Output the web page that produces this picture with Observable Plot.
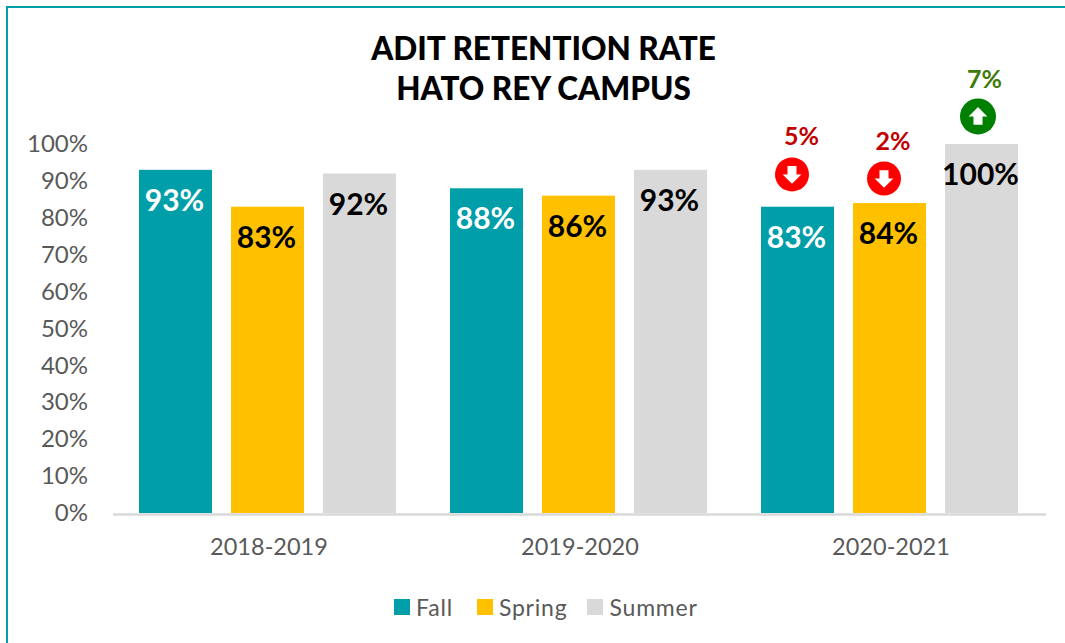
<!DOCTYPE html>
<html><head><meta charset="utf-8">
<script src="https://cdn.jsdelivr.net/npm/d3@7"></script>
<script src="https://cdn.jsdelivr.net/npm/@observablehq/plot@0.6"></script>
<style>
html,body{margin:0;padding:0;background:#fff;overflow:hidden}
#page{position:relative;width:1065px;height:643px;overflow:hidden}
#frame{position:absolute;left:6px;top:6px;width:1100px;height:700px;border:2.5px solid #009ea8;box-sizing:border-box}
#title{position:absolute;left:0;top:28px;width:1087px;text-align:center;font:900 31.5px/40px Lato,sans-serif;color:#000}
#chart{position:absolute;left:0;top:0}
#legend{position:absolute;left:394px;top:592px;display:flex;align-items:center;font:23px/30px Lato,sans-serif;color:#595959;letter-spacing:.8px}
#legend span.s{display:inline-block;width:16px;height:16px;margin-right:6px}
#legend div{display:flex;align-items:center;margin-right:24px}
#legend div:nth-child(2){margin-right:20px}
</style></head><body>
<div id="page">
<div id="frame"></div>
<div id="chart"></div>
<div id="title">ADIT RETENTION RATE<br>HATO REY CAMPUS</div>
<div id="legend"></div>
</div>
<script>
const years = ["2018-2019","2019-2020","2020-2021"];
const terms = ["Fall","Spring","Summer"];
const colors = ["#009ea8","#ffc000","#d9d9d9"];
const fall = [93,88,83];
const spring = [83,86,84];
const summer = [92,93,100];
const labelColors = ["#ffffff","#000000","#000000"];
const changeLabels = ["5%","2%","7%"];
const changeDirs = ["down","down","up"];
const badgeY = [91.9,90.8,107.6];
const changeLabelY = [101.9,100.8,117.6];
const badgeColors = ["#ff0000","#ff0000","#008000"];
const changeColors = ["#c00000","#c00000","#3f7a0a"];
const badgeDx = [-6,-6,-4];
const labelDx = [3.5,3,2.5];

const series = [fall,spring,summer];
const rows = years.flatMap((year,i)=>terms.map((term,j)=>({year,term,value:series[j][i],labelColor:labelColors[j]})));
const changes = terms.map((term,i)=>({year:years[2],term,label:changeLabels[i],dir:changeDirs[i],by:badgeY[i],ly:changeLabelY[i],bc:badgeColors[i],lc:changeColors[i],bdx:badgeDx[i],ldx:labelDx[i]}));

const arrowUp = {draw(c,s){const r=Math.sqrt(s);c.moveTo(0,-r*.62);c.lineTo(r*.62,0);c.lineTo(r*.3,0);c.lineTo(r*.3,r*.55);c.lineTo(-r*.3,r*.55);c.lineTo(-r*.3,0);c.lineTo(-r*.62,0);c.closePath();}};
const arrowDown = {draw(c,s){const r=Math.sqrt(s);c.moveTo(0,r*.62);c.lineTo(r*.62,0);c.lineTo(r*.3,0);c.lineTo(r*.3,-r*.55);c.lineTo(-r*.3,-r*.55);c.lineTo(-r*.3,0);c.lineTo(-r*.62,0);c.closePath();}};

const chart = Plot.plot({
  width:1065,height:643,marginLeft:112,marginRight:19,marginTop:144,marginBottom:130,
  style:{background:"transparent",fontFamily:"Lato, sans-serif",overflow:"visible"},
  fx:{domain:years,padding:0,label:null,axis:null},
  x:{domain:terms,paddingInner:.211,paddingOuter:.295,align:.48,axis:null,label:null},
  y:{domain:[0,100],label:null,axis:null},
  color:{domain:terms,range:colors},
  marks:[
    Plot.axisY({ticks:d3.range(0,101,10),tickFormat:d=>d+"%",tickSize:0,tickPadding:25.5,label:null,fontSize:24,fill:"#595959",anchor:"left"}),
    Plot.axisFx({domain:years,anchor:"bottom",tickSize:0,tickPadding:25,label:null,fontSize:23.5,fill:"#595959"}),
    Plot.barY(rows,{fx:"year",x:"term",y:"value",fill:"term"}),
    Plot.ruleY([0],{stroke:"#d9d9d9",strokeWidth:2.5,dy:1}),
    Plot.text(rows,{fx:"year",x:"term",y:"value",text:d=>d.value+"%",fill:"labelColor",dx:-1.5,dy:31,fontSize:30,fontWeight:700,fontFamily:"Lato, sans-serif"}),
    ...changes.map(d=>Plot.dot([d],{fx:"year",x:"term",y:"by",r:d.dir==="up"?18:17,fill:"bc",dx:d.bdx})),
    ...changes.map(d=>Plot.dot([d],{fx:"year",x:"term",y:"by",r:8.5,symbol:()=>d.dir==="up"?arrowUp:arrowDown,fill:"#fff",dx:d.bdx})),
    ...changes.map(d=>Plot.text([d],{fx:"year",x:"term",y:"ly",text:"label",fill:"lc",dx:d.ldx,fontSize:25,fontWeight:700,fontFamily:"Lato, sans-serif"}))
  ]
});
document.getElementById("chart").append(chart);
const leg=document.getElementById("legend");
terms.forEach((t,i)=>{const d=document.createElement("div");const s=document.createElement("span");s.className="s";s.style.background=colors[i];d.append(s,t);leg.append(d);});
</script>
</body></html>
